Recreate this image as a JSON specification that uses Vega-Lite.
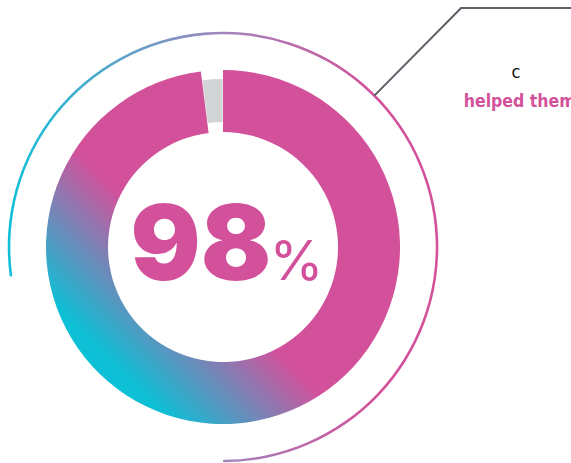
{
  "$schema": "https://vega.github.io/schema/vega-lite/v6.json",
  "width": 571,
  "height": 463,
  "autosize": {"type": "none"},
  "padding": 0,
  "background": "white",
  "config": {"view": {"stroke": null}},
  "datasets": {
    "donut": [
      {"group": "helped", "pct": 98},
      {"group": "other", "pct": 2}
    ],
    "ring": [{"from": -27.2, "to": 50}],
    "leader": [
      {"px": 0.855, "py": 0.855, "o": 1},
      {"px": 1.345, "py": 1.35, "o": 2},
      {"px": 1.98, "py": 1.35, "o": 3}
    ],
    "labels": [
      {"kind": "big", "text": "98", "px": -0.125, "py": -0.186},
      {"kind": "pct", "text": "%", "px": 0.262, "py": -0.186},
      {"kind": "small", "text": "c", "px": 1.655, "py": 0.955},
      {"kind": "caption", "text": "helped them", "px": 1.36, "py": 0.791}
    ]
  },
  "layer": [
    {
      "data": {"name": "ring"},
      "mark": {
        "type": "arc",
        "radius": 215.3,
        "radius2": 212.7,
        "cornerRadius": 1,
        "stroke": null,
        "fill": {
          "gradient": "linear",
          "x1": 0, "y1": 0, "x2": 1, "y2": 0,
          "stops": [
            {"offset": 0, "color": "#0fc0d8"},
            {"offset": 0.5, "color": "#a286bc"},
            {"offset": 0.85, "color": "#d3519b"},
            {"offset": 1, "color": "#d3519b"}
          ]
        }
      },
      "encoding": {
        "x": {"datum": 0, "type": "quantitative", "scale": {"domain": [-1.26, 1.966], "nice": false, "zero": false}, "axis": null},
        "y": {"datum": 0, "type": "quantitative", "scale": {"domain": [-1.2203, 1.3955], "nice": false, "zero": false}, "axis": null},
        "theta": {"field": "from", "type": "quantitative", "scale": {"domain": [0, 100], "nice": false, "zero": false}},
        "theta2": {"field": "to"}
      }
    },
    {
      "data": {"name": "donut"},
      "transform": [
        {"stack": "pct", "groupby": [], "as": ["p0", "p1"]},
        {"filter": "datum.group === 'other'"}
      ],
      "mark": {"type": "arc", "radius": 168, "radius2": 125, "padAngle": 0.004, "fill": "#d3d4d6", "stroke": null},
      "encoding": {
        "x": {"datum": 0, "type": "quantitative"},
        "y": {"datum": 0, "type": "quantitative"},
        "theta": {"field": "p0", "type": "quantitative"},
        "theta2": {"field": "p1"}
      }
    },
    {
      "data": {"name": "donut"},
      "transform": [
        {"stack": "pct", "groupby": [], "as": ["p0", "p1"]},
        {"filter": "datum.group === 'helped'"}
      ],
      "mark": {
        "type": "arc",
        "radius": 177,
        "radius2": 115,
        "stroke": null,
        "fill": {
          "gradient": "linear",
          "x1": 1, "y1": 0, "x2": 0, "y2": 1,
          "stops": [
            {"offset": 0, "color": "#d3519b"},
            {"offset": 0.57, "color": "#d3519b"},
            {"offset": 0.82, "color": "#0dc0d6"},
            {"offset": 1, "color": "#0dc0d6"}
          ]
        }
      },
      "encoding": {
        "x": {"datum": 0, "type": "quantitative"},
        "y": {"datum": 0, "type": "quantitative"},
        "theta": {"field": "p0", "type": "quantitative"},
        "theta2": {"field": "p1"}
      }
    },
    {
      "data": {"name": "leader"},
      "mark": {"type": "line", "color": "#5b6067", "strokeWidth": 2},
      "encoding": {
        "x": {"field": "px", "type": "quantitative"},
        "y": {"field": "py", "type": "quantitative"},
        "order": {"field": "o"}
      }
    },
    {
      "data": {"name": "labels"},
      "transform": [{"filter": "datum.kind === 'big'"}],
      "mark": {"type": "text", "font": "Inter", "fontWeight": 900, "fontSize": 104, "color": "#d3519b", "align": "center", "baseline": "alphabetic", "letterSpacing": -4},
      "encoding": {
        "x": {"field": "px", "type": "quantitative"},
        "y": {"field": "py", "type": "quantitative"},
        "text": {"field": "text"}
      }
    },
    {
      "data": {"name": "labels"},
      "transform": [{"filter": "datum.kind === 'pct'"}],
      "mark": {"type": "text", "font": "Inter", "fontWeight": 400, "fontSize": 55, "color": "#d3519b", "align": "left", "baseline": "alphabetic"},
      "encoding": {
        "x": {"field": "px", "type": "quantitative"},
        "y": {"field": "py", "type": "quantitative"},
        "text": {"field": "text"}
      }
    },
    {
      "data": {"name": "labels"},
      "transform": [{"filter": "datum.kind === 'small'"}],
      "mark": {"type": "text", "font": "DejaVu Sans Condensed", "fontSize": 18, "color": "#111111", "align": "center", "baseline": "alphabetic"},
      "encoding": {
        "x": {"field": "px", "type": "quantitative"},
        "y": {"field": "py", "type": "quantitative"},
        "text": {"field": "text"}
      }
    },
    {
      "data": {"name": "labels"},
      "transform": [{"filter": "datum.kind === 'caption'"}],
      "mark": {"type": "text", "font": "DejaVu Sans Condensed", "fontWeight": "bold", "fontSize": 17.5, "color": "#d3519b", "align": "left", "baseline": "alphabetic"},
      "encoding": {
        "x": {"field": "px", "type": "quantitative"},
        "y": {"field": "py", "type": "quantitative"},
        "text": {"field": "text"}
      }
    }
  ]
}
